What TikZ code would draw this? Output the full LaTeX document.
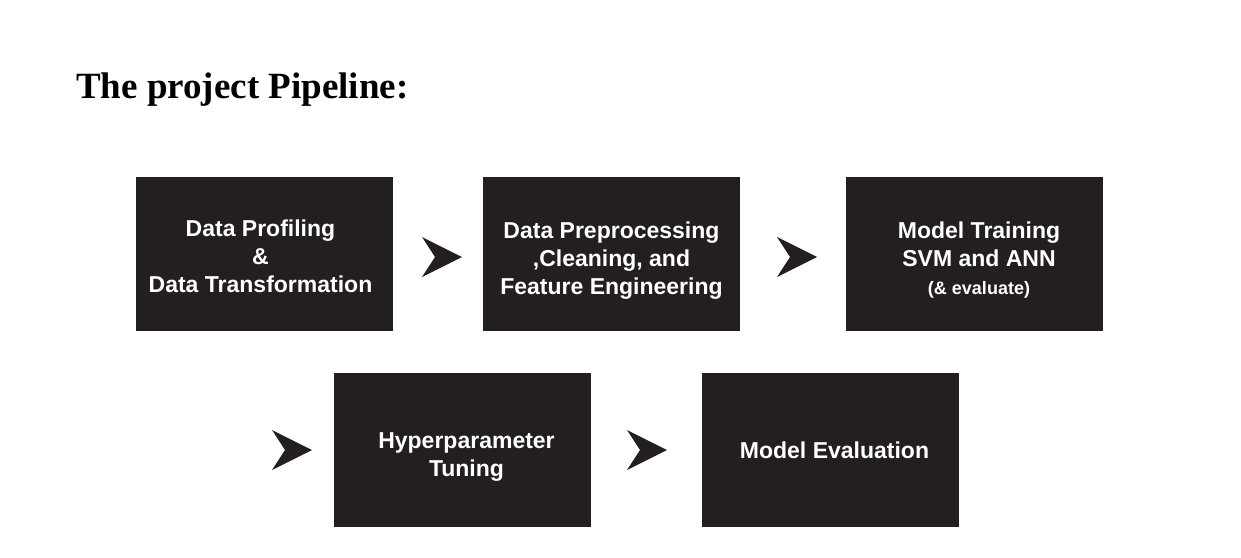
\documentclass[tikz,border=0pt]{standalone}
\usepackage{fontspec}
\setmainfont{Liberation Serif}
\setsansfont{Liberation Sans}
\usetikzlibrary{positioning}

\definecolor{boxblack}{HTML}{231F20}

\begin{document}
\begin{tikzpicture}[x=1pt,y=-1pt]

\tikzset{stage/.style = {shape=rectangle,fill=boxblack,minimum width=257pt,minimum height=154pt,inner sep=0pt}}
\tikzset{caption/.style = {text=white,align=center,font=\sffamily\bfseries\fontsize{23}{28}\selectfont,inner sep=0pt}}
\tikzset{chevron/.pic = {\fill[boxblack] (-20,-20) -- (20,0) -- (-20,20) -- (-7,0) -- cycle;}}
\useasboundingbox (0,0) rectangle (1241,557);
%title
\node[anchor=base west, font=\bfseries\fontsize{37}{42}\selectfont, inner sep=0pt] (title) at (76,98) {The project Pipeline:};
%stages
\node[stage] (1) at (264.5,254) {};
\node[stage] (2) at (611.5,254) {};
\node[stage] (3) at (974,254) {};
\node[stage] (4) at (462.5,450) {};
\node[stage] (5) at (830.5,450) {};
%texts
\node[caption, xshift=-4pt, yshift=-2pt] (t1) at (1) {Data Profiling\\\&\\Data Transformation};
\node[caption, yshift=-7pt] (t2) at (2) {Data Preprocessing\\,Cleaning, and\\Feature Engineering};
\node[caption, xshift=5pt, yshift=-6pt] (t3) at (3) {Model Training\\SVM and ANN\\{\fontsize{18}{30}\selectfont(\& evaluate)}};
\node[caption, xshift=4pt, yshift=-7pt] (t4) at (4) {Hyperparameter\\Tuning};
\node[caption, xshift=4pt] (t5) at (5) {Model Evaluation};
%arrows
\pic at (442,257) {chevron};
\pic at (797,257) {chevron};
\pic at (292,450) {chevron};
\pic at (647,450) {chevron};

\end{tikzpicture}
\end{document}
